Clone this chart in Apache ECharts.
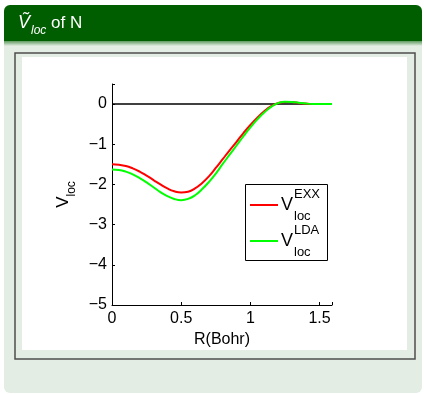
<!DOCTYPE html>
<html>
<head>
<meta charset="utf-8">
<script src="https://cdn.jsdelivr.net/npm/echarts@6/dist/echarts.min.js"></script>
<style>
html,body{margin:0;padding:0;background:#ffffff;}
#c{width:424px;height:394px;}
</style>
</head>
<body>
<div id="c"></div>
<script>
// Data
const rValues = [0,0.05,0.1,0.15,0.2,0.25,0.3,0.35,0.4,0.45,0.5,0.55,0.6,0.65,0.7,0.75,0.8,0.85,0.9,0.95,1.0,1.05,1.1,1.15,1.2,1.25,1.3,1.35,1.4,1.45,1.5,1.55,1.59];
const vEXX = [-1.50,-1.51,-1.54,-1.60,-1.68,-1.78,-1.89,-2.00,-2.10,-2.17,-2.20,-2.18,-2.10,-1.97,-1.80,-1.59,-1.37,-1.15,-0.94,-0.72,-0.52,-0.34,-0.18,-0.05,0.025,0.055,0.05,0.03,0.012,0.002,0,0,0];
const vLDA = [-1.63,-1.64,-1.68,-1.75,-1.84,-1.95,-2.07,-2.19,-2.29,-2.36,-2.39,-2.36,-2.27,-2.12,-1.94,-1.73,-1.49,-1.26,-1.03,-0.80,-0.58,-0.38,-0.21,-0.07,0.025,0.06,0.055,0.035,0.015,0.003,0,0,0];
const zeroLine = [[0,0],[1.59,0]];
const xTicks = [0, 0.5, 1, 1.5];
const yTicks = [-5, -4, -3, -2, -1, 0];

const FONT = '"Liberation Sans", Arial, Helvetica, sans-serif';
const chart = echarts.init(document.getElementById('c'), null, {renderer: 'canvas'});

const exxData = rValues.map((r, i) => [r, vEXX[i]]);
const ldaData = rValues.map((r, i) => [r, vLDA[i]]);

const fmtNum = v => (v < 0 ? '\u2212' + Math.abs(v) : String(v));

chart.setOption({
  animation: false,
  graphic: [
    // block body
    {type: 'rect', z: -10, shape: {x: 4, y: 5, width: 418, height: 388, r: 6}, style: {fill: '#e3ede3'}},
    // block header
    {type: 'rect', z: -9, shape: {x: 4, y: 5, width: 418, height: 36, r: [6, 6, 0, 0]}, style: {fill: '#005e00'}},
    {type: 'rect', z: -9, shape: {x: 4, y: 41, width: 418, height: 5},
      style: {fill: new echarts.graphic.LinearGradient(0, 0, 0, 1, [{offset: 0, color: '#5f9a5f'}, {offset: 1, color: '#e3ede3'}])}},
    {type: 'text', z: 10, left: 18, top: 13,
      style: {
        text: '{v|\u1E7C}{s|loc}{n| of N}',
        rich: {
          v: {fontFamily: FONT, fontSize: 18, fontStyle: 'italic', fill: '#ffffff', lineHeight: 22, padding: [0, 1, 4, 0]},
          s: {fontFamily: FONT, fontSize: 12, fontStyle: 'italic', fill: '#ffffff', lineHeight: 14, padding: [12, 0, 0, 0]},
          n: {fontFamily: FONT, fontSize: 17, fill: '#ffffff', lineHeight: 22, padding: [0, 0, 4, 0]}
        }
      }},
    // figure frame
    {type: 'rect', z: -8, shape: {x: 15, y: 53, width: 400, height: 306}, style: {fill: '#e3ede3', stroke: '#4d4d4d', lineWidth: 1.5}},
    {type: 'rect', z: -7, shape: {x: 22, y: 57, width: 385, height: 293}, style: {fill: '#ffffff'}},
    // legend
    {type: 'rect', z: 20, shape: {x: 245.5, y: 184.5, width: 82, height: 76}, style: {fill: '#ffffff', stroke: '#000000', lineWidth: 1}},
    {type: 'line', z: 21, shape: {x1: 250, y1: 205, x2: 278, y2: 205}, style: {stroke: '#ff0000', lineWidth: 2}},
    {type: 'line', z: 21, shape: {x1: 250, y1: 241, x2: 278, y2: 241}, style: {stroke: '#00ff00', lineWidth: 2}},
    {type: 'text', z: 21, x: 281, y: 205, style: {text: 'V', fontFamily: FONT, fontSize: 18, fill: '#000', verticalAlign: 'middle'}},
    {type: 'text', z: 21, x: 294, y: 194, style: {text: 'EXX', fontFamily: FONT, fontSize: 13, fill: '#000', verticalAlign: 'middle'}},
    {type: 'text', z: 21, x: 294, y: 216, style: {text: 'loc', fontFamily: FONT, fontSize: 13, fill: '#000', verticalAlign: 'middle'}},
    {type: 'text', z: 21, x: 281, y: 241, style: {text: 'V', fontFamily: FONT, fontSize: 18, fill: '#000', verticalAlign: 'middle'}},
    {type: 'text', z: 21, x: 294, y: 230, style: {text: 'LDA', fontFamily: FONT, fontSize: 13, fill: '#000', verticalAlign: 'middle'}},
    {type: 'text', z: 21, x: 294, y: 252, style: {text: 'loc', fontFamily: FONT, fontSize: 13, fill: '#000', verticalAlign: 'middle'}}
  ],
  grid: {left: 112, top: 84, right: 92, bottom: 89, containLabel: false},
  xAxis: {
    type: 'value', min: 0, max: 1.59, interval: 0.5,
    name: 'R(Bohr)', nameLocation: 'middle', nameGap: 26,
    nameTextStyle: {fontFamily: FONT, fontSize: 16, color: '#000'},
    axisLine: {show: true, onZero: false, lineStyle: {color: '#000', width: 1}},
    axisTick: {show: true, inside: true, length: 3, lineStyle: {color: '#000'}},
    axisLabel: {fontFamily: FONT, fontSize: 16, color: '#000', margin: 6,
      formatter: v => (xTicks.indexOf(v) >= 0 ? String(v) : '')},
    splitLine: {show: false}
  },
  yAxis: {
    type: 'value', min: -5, max: 0.5, interval: 1,
    name: '{a|V}{b|loc}', nameLocation: 'middle', nameGap: 35, nameRotate: 90,
    nameTextStyle: {
      rich: {
        a: {fontFamily: FONT, fontSize: 17, color: '#000', lineHeight: 18, padding: [0, 0, 6, 0]},
        b: {fontFamily: FONT, fontSize: 12, color: '#000', lineHeight: 13, padding: [11, 0, 0, 0]}
      }
    },
    axisLine: {show: true, onZero: false, lineStyle: {color: '#000', width: 1}},
    axisTick: {show: true, inside: true, length: 3, lineStyle: {color: '#000'}},
    axisLabel: {fontFamily: FONT, fontSize: 16, color: '#000', margin: 5,
      formatter: v => (yTicks.indexOf(v) >= 0 ? fmtNum(v) : '')},
    splitLine: {show: false}
  },
  series: [
    {type: 'line', data: zeroLine, symbol: 'none', lineStyle: {color: '#000', width: 1.5}, z: 2},
    {type: 'line', name: 'EXX', data: exxData, symbol: 'none', smooth: true, lineStyle: {color: '#ff0000', width: 2}, z: 3},
    {type: 'line', name: 'LDA', data: ldaData, symbol: 'none', smooth: true, lineStyle: {color: '#00ff00', width: 2}, z: 4}
  ]
});
</script>
</body>
</html>
